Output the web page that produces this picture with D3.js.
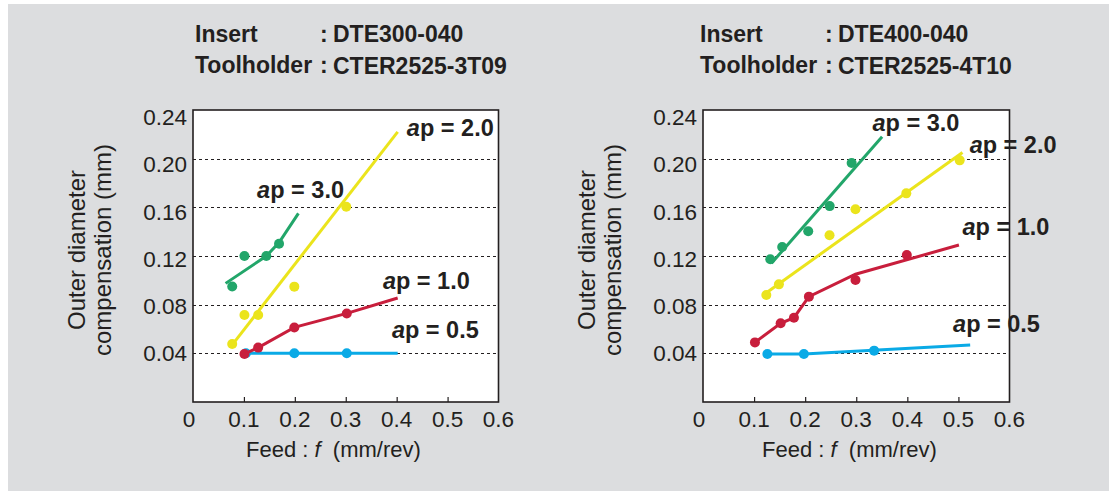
<!DOCTYPE html>
<html>
<head>
<meta charset="utf-8">
<script src="https://cdn.jsdelivr.net/npm/d3@7"></script>
<style>
  body { margin: 0; background: #fff; }
  svg { display: block; font-family: "Liberation Sans", Arial, Helvetica, sans-serif; }
</style>
</head>
<body>
<div id="chart"></div>
<script>
// axes
var xTicks = [0, 0.1, 0.2, 0.3, 0.4, 0.5, 0.6];
var yTicks = [0.04, 0.08, 0.12, 0.16, 0.20, 0.24];
var yGrid = [0.04, 0.08, 0.12, 0.16, 0.20];
var apNames = ["0.5", "1.0", "2.0", "3.0"];

// left : DTE300-040 / CTER2525-3T09
var leftInsert = "DTE300-040", leftHolder = "CTER2525-3T09";
var leftAp05Pts = [[0.104, 0.04], [0.199, 0.04], [0.302, 0.04]];
var leftAp05Fit = [[0.104, 0.04], [0.402, 0.04]];
var leftAp10Pts = [[0.101, 0.0395], [0.128, 0.0447], [0.199, 0.0613], [0.302, 0.0728]];
var leftAp10Fit = [[0.101, 0.0395], [0.128, 0.0447], [0.199, 0.0613], [0.302, 0.0728], [0.402, 0.0855]];
var leftAp20Pts = [[0.077, 0.0477], [0.101, 0.0715], [0.128, 0.0715], [0.199, 0.0948], [0.301, 0.1605]];
var leftAp20Fit = [[0.077, 0.047], [0.402, 0.222]];
var leftAp30Pts = [[0.077, 0.095], [0.101, 0.12], [0.144, 0.12], [0.169, 0.13]];
var leftAp30Fit = [[0.064, 0.0975], [0.144, 0.12], [0.169, 0.131], [0.207, 0.155]];

// right : DTE400-040 / CTER2525-4T10
var rightInsert = "DTE400-040", rightHolder = "CTER2525-4T10";
var rightAp05Pts = [[0.126, 0.0395], [0.1975, 0.0395], [0.335, 0.0422]];
var rightAp05Fit = [[0.126, 0.0395], [0.1975, 0.0395], [0.523, 0.0468]];
var rightAp10Pts = [[0.1017, 0.049], [0.152, 0.0647], [0.178, 0.0693], [0.2073, 0.0866], [0.2985, 0.1003], [0.399, 0.1208]];
var rightAp10Fit = [[0.1017, 0.049], [0.152, 0.0647], [0.178, 0.0693], [0.2073, 0.0866], [0.2985, 0.105], [0.501, 0.129]];
var rightAp20Pts = [[0.124, 0.0879], [0.1486, 0.0967], [0.2477, 0.137], [0.2985, 0.1584], [0.398, 0.1715], [0.5025, 0.1986]];
var rightAp20Fit = [[0.118, 0.088], [0.508, 0.205]];
var rightAp30Pts = [[0.1317, 0.1173], [0.155, 0.1274], [0.206, 0.1403], [0.248, 0.161], [0.291, 0.1964]];
var rightAp30Fit = [[0.134, 0.114], [0.3506, 0.218]];

var colors = { "0.5": "#0aaae6", "1.0": "#c81e3c", "2.0": "#ebe41c", "3.0": "#22a66a" };

var W = 1109, H = 491;

var svg = d3.select("#chart").append("svg")
  .attr("width", W)
  .attr("height", H);

svg.append("rect")
  .attr("x", 8).attr("y", 4)
  .attr("width", W - 8).attr("height", H - 4)
  .attr("fill", "#dcdddf");

var panels = [
  {
    left: 193, right: 498.5, top: 110, bottom: 402,
    insert: leftInsert, holder: leftHolder, headX: 195, colonX: 320, valX: 333, titleX: 246,
    series: {
      "0.5": { pts: leftAp05Pts, fit: leftAp05Fit, label: [0.3906, 0.0524] },
      "1.0": { pts: leftAp10Pts, fit: leftAp10Fit, label: [0.373, 0.0929] },
      "2.0": { pts: leftAp20Pts, fit: leftAp20Fit, label: [0.42, 0.2186] },
      "3.0": { pts: leftAp30Pts, fit: leftAp30Fit, label: [0.1259, 0.1677] }
    }
  },
  {
    left: 703, right: 1009.5, top: 110, bottom: 402,
    insert: rightInsert, holder: rightHolder, headX: 700, colonX: 825, valX: 838, titleX: 762,
    series: {
      "0.5": { pts: rightAp05Pts, fit: rightAp05Fit, label: [0.4895, 0.0578] },
      "1.0": { pts: rightAp10Pts, fit: rightAp10Fit, label: [0.508, 0.137] },
      "2.0": { pts: rightAp20Pts, fit: rightAp20Fit, label: [0.522, 0.205] },
      "3.0": { pts: rightAp30Pts, fit: rightAp30Fit, label: [0.3318, 0.223] }
    }
  }
];

panels.forEach(function(p) {

  var x = d3.scaleLinear().domain([0, 0.6]).range([p.left, p.right]);
  var y = d3.scaleLinear().domain([0, 0.24]).range([p.bottom, p.top]);
  // tick labels sit a little off the grid in the original
  var yLab = d3.scaleLinear().domain([0.04, 0.24]).range([p.bottom - 49, p.top + 7]);

  // header
  var head = svg.append("g")
    .attr("font-size", 23)
    .attr("font-weight", "bold")
    .attr("fill", "#231f20");
  head.append("text").attr("x", p.headX).attr("y", 41.5).text("Insert");
  head.append("text").attr("x", p.colonX).attr("y", 41.5).text(":");
  head.append("text").attr("x", p.valX).attr("y", 41.5).text(p.insert);
  head.append("text").attr("x", p.headX).attr("y", 73).text("Toolholder");
  head.append("text").attr("x", p.colonX).attr("y", 73).text(":");
  head.append("text").attr("x", p.valX).attr("y", 74).text(p.holder);

  // plot area
  svg.append("rect")
    .attr("x", p.left).attr("y", p.top)
    .attr("width", p.right - p.left).attr("height", p.bottom - p.top)
    .attr("fill", "#fff");

  svg.append("g")
    .selectAll("line")
    .data(yGrid)
    .enter().append("line")
    .attr("x1", p.left).attr("x2", p.right)
    .attr("y1", function(d) { return Math.round(y(d)) + 0.5; })
    .attr("y2", function(d) { return Math.round(y(d)) + 0.5; })
    .attr("stroke", "#231f20")
    .attr("stroke-width", 1)
    .attr("stroke-dasharray", "3,3");

  // x axis, ticks pointing inward
  var xAxis = d3.axisTop(x)
    .tickValues(xTicks.slice(1, -1))
    .tickSize(5)
    .tickFormat("");
  svg.append("g")
    .attr("transform", "translate(0," + p.bottom + ")")
    .call(xAxis)
    .call(function(g) { g.select(".domain").remove(); })
    .selectAll("line").attr("stroke", "#231f20").attr("stroke-width", 1.2);

  svg.append("g")
    .selectAll("text")
    .data(xTicks)
    .enter().append("text")
    .attr("x", function(d) { return x(d) - (d === 0 ? 4 : 0); })
    .attr("y", p.bottom + 25)
    .attr("text-anchor", "middle")
    .attr("font-size", 22.5)
    .attr("fill", "#231f20")
    .text(function(d) { return d === 0 ? "0" : d3.format(".1f")(d); });

  svg.append("g")
    .selectAll("text")
    .data(yTicks)
    .enter().append("text")
    .attr("x", p.left - 6)
    .attr("y", function(d) { return yLab(d); })
    .attr("dy", "0.36em")
    .attr("text-anchor", "end")
    .attr("font-size", 22.5)
    .attr("fill", "#231f20")
    .text(function(d) { return d3.format(".2f")(d); });

  // axis titles
  var yt = svg.append("text")
    .attr("transform", "translate(" + (p.left - 108) + "," + 250 + ") rotate(-90)")
    .attr("text-anchor", "middle")
    .attr("font-size", 24)
    .attr("fill", "#231f20");
  yt.append("tspan").attr("x", 0).attr("dy", 0).text("Outer diameter");
  yt.append("tspan").attr("x", 0).attr("dy", 26).text("compensation (mm)");

  var xt = svg.append("text")
    .attr("x", p.titleX)
    .attr("y", 457)
    .attr("font-size", 22)
    .attr("fill", "#231f20");
  xt.append("tspan").text("Feed : ");
  xt.append("tspan").attr("font-style", "italic").text("f");
  xt.append("tspan").text("\u00a0 (mm/rev)");

  // series
  var line = d3.line()
    .x(function(d) { return x(d[0]); })
    .y(function(d) { return y(d[1]); });

  apNames.forEach(function(ap) {
    var s = p.series[ap];
    var g = svg.append("g");
    g.append("path")
      .attr("d", line(s.fit))
      .attr("fill", "none")
      .attr("stroke", colors[ap])
      .attr("stroke-width", 3);
    g.selectAll("circle")
      .data(s.pts)
      .enter().append("circle")
      .attr("cx", function(d) { return x(d[0]); })
      .attr("cy", function(d) { return y(d[1]); })
      .attr("r", 5)
      .attr("fill", colors[ap]);
  });

  // frame
  svg.append("rect")
    .attr("x", p.left).attr("y", p.top)
    .attr("width", p.right - p.left).attr("height", p.bottom - p.top)
    .attr("fill", "none")
    .attr("stroke", "#231f20")
    .attr("stroke-width", 1.6);

  // ap labels
  apNames.forEach(function(ap) {
    var s = p.series[ap];
    var t = svg.append("text")
      .attr("x", x(s.label[0]))
      .attr("y", y(s.label[1]))
      .attr("font-size", 23.5)
      .attr("font-weight", "bold")
      .attr("fill", "#231f20");
    t.append("tspan").attr("font-style", "italic").text("a");
    t.append("tspan").text("p = " + ap);
  });
});
</script>
</body>
</html>
